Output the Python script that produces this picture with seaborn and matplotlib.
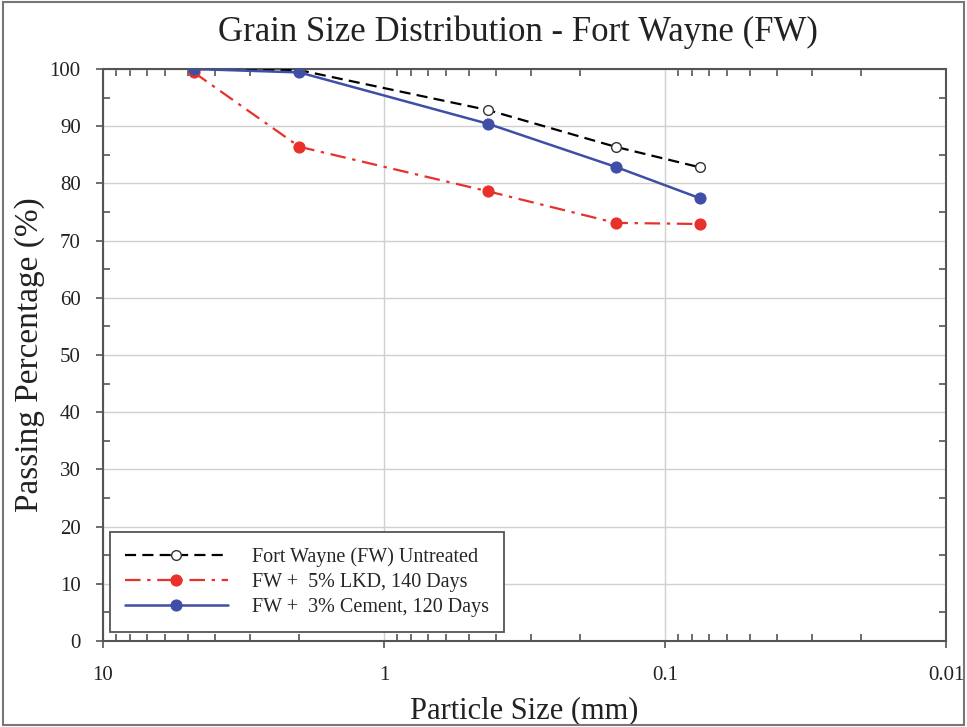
import numpy as np
import pandas as pd
import matplotlib
matplotlib.use("Agg")
import matplotlib.pyplot as plt
import seaborn as sns
from matplotlib.ticker import FixedLocator, LogLocator, NullFormatter, MultipleLocator
from matplotlib.patches import Rectangle

sns.set_theme(style="white")
plt.rcParams['font.family'] = ['Liberation Serif', 'DejaVu Serif']
plt.rcParams['xtick.bottom'] = True
plt.rcParams['ytick.left'] = True

particle_size = [4.75, 2.0, 0.425, 0.15, 0.075]
untreated = [100.0, 99.8, 92.8, 86.4, 82.8]
lkd_5pct = [99.4, 86.4, 78.6, 73.1, 72.9]
cement_3pct = [100.0, 99.4, 90.4, 82.9, 77.4]
labels = ["Fort Wayne (FW) Untreated", "FW +  5% LKD, 140 Days", "FW +  3% Cement, 120 Days"]
x_ticks = [10, 1, 0.1, 0.01]
x_ticklabels = ["10", "1", "0.1", "0.01"]

fig = plt.figure(figsize=(9.67, 7.27), dpi=100)
ax = fig.add_axes([103/967, 1-641/727, (946-103)/967, (641-69)/727])

sns.lineplot(x=particle_size, y=untreated, ax=ax, sort=False, color="black",
             linestyle=(0, (5, 2.8)), linewidth=1.6, marker="o", markersize=7,
             markerfacecolor="white", markeredgecolor="#333333", markeredgewidth=1.0,
             label=labels[0], zorder=3)
sns.lineplot(x=particle_size, y=lkd_5pct, ax=ax, sort=False, color="#e8312a",
             linestyle=(0, (7, 3, 1.5, 3)), linewidth=1.6, marker="o", markersize=8,
             markeredgecolor="#e8312a", label=labels[1], zorder=4)
sns.lineplot(x=particle_size, y=cement_3pct, ax=ax, sort=False, color="#3f4fa8",
             linestyle="-", linewidth=1.8, marker="o", markersize=8,
             markeredgecolor="#3f4fa8", label=labels[2], zorder=5)

ax.set_xscale("log")
ax.set_xlim(10, 0.01)
ax.set_ylim(0, 100)
ax.xaxis.set_major_locator(FixedLocator(x_ticks))
ax.set_xticklabels(x_ticklabels)
ax.xaxis.set_minor_locator(LogLocator(base=10, subs=np.arange(2, 10)))
ax.xaxis.set_minor_formatter(NullFormatter())
ax.yaxis.set_major_locator(MultipleLocator(10))
ax.yaxis.set_minor_locator(MultipleLocator(5))

ax.grid(True, which="major", color="#d0d0d0", linewidth=1.0)
ax.set_axisbelow(True)
for sp in ax.spines.values():
    sp.set_color("#555555")
    sp.set_linewidth(1.5)

ax.tick_params(axis="both", which="major", direction="out", length=5, width=1.2,
               color="#555555", labelsize=15, labelcolor="#222222",
               bottom=True, left=True, top=False, right=False)
ax.tick_params(axis="both", which="minor", direction="in", length=5, width=1.2,
               color="#555555", top=True, right=True, bottom=True, left=True)
ax.tick_params(axis="x", which="major", pad=13)
ax.tick_params(axis="y", which="major", pad=11)

ax.set_xlabel("Particle Size (mm)", fontsize=22, color="#222222", labelpad=8)
ax.set_ylabel("Passing Percentage (%)", fontsize=24, color="#222222", labelpad=3)
ax.set_title("Grain Size Distribution - Fort Wayne (FW)", fontsize=25, color="#222222",
             pad=20, x=0.4917)

leg = ax.legend(loc="lower left", bbox_to_anchor=(7/843, 9/572), borderaxespad=0,
                fontsize=14.5, frameon=True, fancybox=False, framealpha=1,
                edgecolor="#555555", handlelength=5.1, handletextpad=1.2,
                borderpad=0.75, labelspacing=0.3)
leg.get_frame().set_linewidth(1.3)

fig.patches.append(Rectangle((0.003, 0.003), 0.994, 0.994, transform=fig.transFigure,
                             fill=False, edgecolor="#777777", linewidth=1.5))

fig.savefig("out.png", dpi=100)
